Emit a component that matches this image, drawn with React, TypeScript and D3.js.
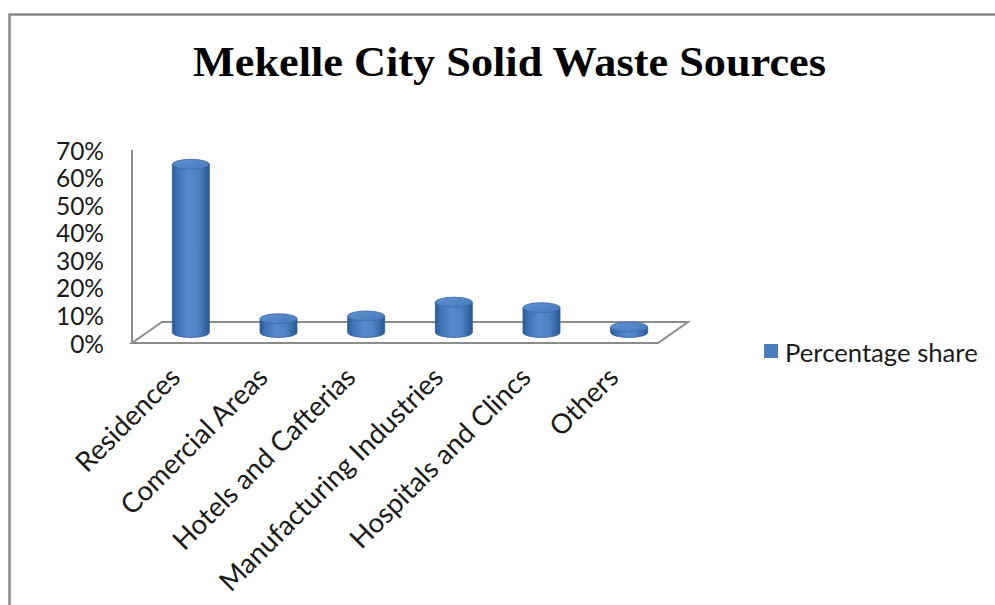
import React from "react";
import * as d3 from "d3";

const title = "Mekelle City Solid Waste Sources";
const categories = [
  "Residences",
  "Comercial Areas",
  "Hotels and Cafterias",
  "Manufacturing Industries",
  "Hospitals and Clincs",
  "Others",
];
const shareValues = [0.61, 0.05, 0.06, 0.11, 0.09, 0.02];
const yTicks = [0, 0.1, 0.2, 0.3, 0.4, 0.5, 0.6, 0.7];
const seriesName = "Percentage share";

const W = 995;
const H = 605;
const frontY = 343;
const topY = 150;
const leftX = 132;
const rightX = 658;
const depthDx = 30;
const depthDy = -21;
const barW = 37;
const ry = 5;
const labelFont = "Lato, 'Open Sans', sans-serif";

export default function App() {
  const y = d3.scaleLinear().domain([0, 0.7]).range([frontY, topY]);
  const x = d3
    .scaleBand<string>()
    .domain(categories)
    .range([leftX + depthDx / 2, rightX + depthDx / 2])
    .padding(0);
  const baseY = frontY + depthDy / 2;
  const fmt = d3.format(".0%");

  const floor = d3.path();
  floor.moveTo(leftX, frontY);
  floor.lineTo(rightX, frontY);
  floor.lineTo(rightX + depthDx, frontY + depthDy);
  floor.lineTo(leftX + depthDx, frontY + depthDy);
  floor.closePath();

  return (
    <svg
      width={W}
      height={H}
      style={{ position: "absolute", left: 0, top: 0, background: "#fff" }}
    >
      <defs>
        <linearGradient id="cyl" x1="0" x2="1" y1="0" y2="0">
          <stop offset="0%" stopColor="#2c5a97" />
          <stop offset="15%" stopColor="#3f73b6" />
          <stop offset="45%" stopColor="#568ccf" />
          <stop offset="70%" stopColor="#4d82c4" />
          <stop offset="100%" stopColor="#2b5894" />
        </linearGradient>
        <linearGradient id="cyltop" x1="0" x2="1" y1="0" y2="1">
          <stop offset="0%" stopColor="#5e92d3" />
          <stop offset="100%" stopColor="#4779ba" />
        </linearGradient>
      </defs>
      <rect x={0} y={0} width={W} height={H} fill="#fff" />
      <path
        d={`M9.5,${H} L9.5,14.5 L${W},14.5`}
        fill="none"
        stroke="#878787"
        strokeWidth={2.5}
      />
      <text
        x={193}
        y={76}
        textAnchor="start"
        textLength={633}
        lengthAdjust="spacingAndGlyphs"
        fontFamily="'Liberation Serif', 'Times New Roman', serif"
        fontWeight="bold"
        fontSize={43}
        fill="#000"
      >
        {title}
      </text>

      {/* floor */}
      <path d={floor.toString()} fill="none" stroke="#8c8c8c" strokeWidth={2} />
      <line
        x1={leftX}
        x2={leftX}
        y1={topY}
        y2={frontY}
        stroke="#8c8c8c"
        strokeWidth={2}
      />

      {/* y ticks */}
      {yTicks.map((t) => (
        <text
          key={t}
          x={104}
          y={y(t)}
          textAnchor="end"
          dominantBaseline="central"
          fontFamily={labelFont}
          fontSize={24.5}
          fill="#1a1a1a"
        >
          {fmt(t)}
        </text>
      ))}

      {/* bars */}
      {categories.map((c, i) => {
        const cx = (x(c) as number) + x.bandwidth() / 2;
        const h = frontY - y(shareValues[i]);
        const top = baseY - h;
        const rx = barW / 2;
        const body = `M${cx - rx},${top} L${cx - rx},${baseY} A${rx},${ry} 0 0 0 ${
          cx + rx
        },${baseY} L${cx + rx},${top} Z`;
        return (
          <g key={c}>
            <path d={body} fill="url(#cyl)" stroke="#2f5d99" strokeWidth={0.8} />
            <ellipse
              cx={cx}
              cy={top}
              rx={rx}
              ry={ry}
              fill="url(#cyltop)"
              stroke="#3a6aa8"
              strokeWidth={0.8}
            />
          </g>
        );
      })}

      {/* x labels */}
      {categories.map((c) => {
        const cx = (x(c) as number) + x.bandwidth() / 2;
        const ax = cx - 9;
        const ay = 379;
        return (
          <text
            key={c}
            x={ax}
            y={ay}
            textAnchor="end"
            transform={`rotate(-45, ${ax}, ${ay})`}
            fontFamily={labelFont}
            fontSize={27.5}
            fill="#1a1a1a"
          >
            {c}
          </text>
        );
      })}

      {/* legend */}
      <rect x={764} y={344} width={14} height={14} fill="#4a7ebf" />
      <text
        x={785}
        y={352}
        dominantBaseline="central"
        fontFamily={labelFont}
        fontSize={25.7}
        fill="#1a1a1a"
      >
        {seriesName}
      </text>
    </svg>
  );
}
